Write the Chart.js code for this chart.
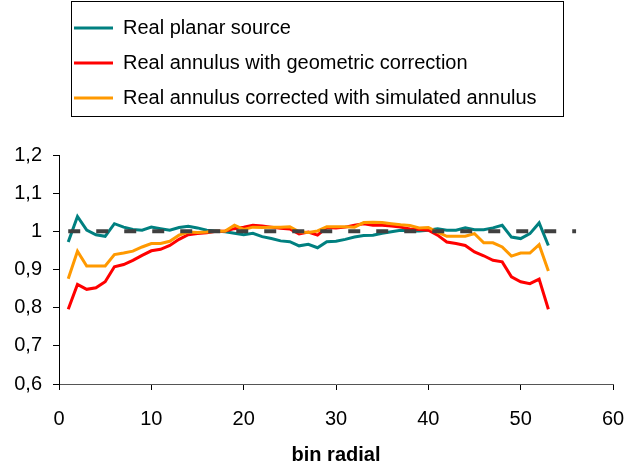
<!DOCTYPE html>
<html>
<head>
<meta charset="utf-8">
<script src="https://cdn.jsdelivr.net/npm/chart.js@4/dist/chart.umd.min.js"></script>
<style>
  html, body { margin: 0; padding: 0; background: #fff; }
  #wrap { width: 626px; height: 463px; }
</style>
</head>
<body>
<div id="wrap"><canvas id="c" width="626" height="463"></canvas></div>
<script>
// ---- data ----
const bins = [1,2,3,4,5,6,7,8,9,10,11,12,13,14,15,16,17,18,19,20,21,22,23,24,25,26,27,28,29,30,31,32,33,34,35,36,37,38,39,40,41,42,43,44,45,46,47,48,49,50,51,52,53];
const realPlanarSource = [0.972,1.039,1.003,0.991,0.987,1.020,1.011,1.005,1.003,1.011,
  1.007,1.003,1.010,1.013,1.009,1.003,1.001,0.999,0.995,0.991,
  0.995,0.986,0.981,0.975,0.973,0.962,0.966,0.957,0.973,0.974,
  0.979,0.985,0.989,0.990,0.995,0.999,1.003,1.001,1.001,1.003,
  1.007,1.003,1.003,1.009,1.004,1.004,1.009,1.016,0.985,0.981,
  0.994,1.022,0.963];
const annulusGeometric = [0.796,0.861,0.848,0.852,0.868,0.907,0.913,0.924,0.937,0.949,
  0.953,0.963,0.979,0.991,0.994,0.996,1.000,1.001,1.007,1.011,
  1.016,1.014,1.011,1.008,1.006,0.993,0.998,0.990,1.010,1.009,
  1.011,1.016,1.020,1.016,1.016,1.014,1.011,1.006,1.005,1.003,
  0.990,0.972,0.968,0.963,0.946,0.936,0.924,0.920,0.881,0.868,
  0.863,0.875,0.796];
const annulusSimulated = [0.876,0.948,0.909,0.909,0.909,0.939,0.943,0.948,0.959,0.968,
  0.968,0.974,0.990,0.998,0.997,0.998,1.000,1.001,1.016,1.005,
  1.011,1.010,1.011,1.011,1.012,0.999,0.997,1.001,1.012,1.012,
  1.012,1.011,1.023,1.024,1.023,1.020,1.017,1.015,1.009,1.010,
  0.998,0.987,0.987,0.987,0.994,0.970,0.970,0.959,0.935,0.943,
  0.943,0.965,0.896];
const referenceX = [1, 56];
const referenceValue = 1;
const seriesLabels = ["Real planar source", "Real annulus with geometric correction", "Real annulus corrected with simulated annulus"];
const xTicks = [0, 10, 20, 30, 40, 50, 60];
const yTicks = [0.6, 0.7, 0.8, 0.9, 1.0, 1.1, 1.2];
const xTitle = "bin radial";

const toPoints = (xs, ys) => xs.map((x, i) => ({ x: x, y: ys[i] }));

const legendGap = {
  id: 'legendGap',
  beforeInit(chart) {
    const fit = chart.legend.fit;
    chart.legend.fit = function () { fit.call(this); this.height += 37; };
  }
};
const legendBox = {
  id: 'legendBox',
  afterDraw(chart) {
    const hb = chart.legend && chart.legend.legendHitBoxes;
    if (!hb || !hb.length) return;
    let l = Infinity, t = Infinity, r = -Infinity, b = -Infinity;
    hb.forEach(h => { l = Math.min(l, h.left); t = Math.min(t, h.top); r = Math.max(r, h.left + h.width); b = Math.max(b, h.top + h.height); });
    const ctx = chart.ctx;
    ctx.save();
    ctx.strokeStyle = '#000';
    ctx.lineWidth = 1;
    const x0 = Math.round(l - 3), y0 = Math.max(0, Math.round(t - 17));
    ctx.strokeRect(x0 + 0.5, y0 + 0.5, Math.round(r + 26) - x0, Math.round(b + 8) - y0);
    ctx.restore();
  }
};

const fontFamily = '"Liberation Sans", Arial, sans-serif';

new Chart(document.getElementById('c'), {
  type: 'line',
  data: {
    datasets: [
      { label: seriesLabels[0], data: toPoints(bins, realPlanarSource), borderColor: '#008080', backgroundColor: '#008080', borderWidth: 3, order: 3 },
      { label: seriesLabels[1], data: toPoints(bins, annulusGeometric), borderColor: '#FF0000', backgroundColor: '#FF0000', borderWidth: 3, order: 2 },
      { label: seriesLabels[2], data: toPoints(bins, annulusSimulated), borderColor: '#FF9900', backgroundColor: '#FF9900', borderWidth: 3, order: 1 },
      { label: 'ref', data: referenceX.map(x => ({ x: x, y: referenceValue })), borderColor: '#404040', borderWidth: 4, borderDash: [12, 16], order: 0 }
    ]
  },
  options: {
    responsive: false,
    animation: false,
    devicePixelRatio: 1,
    elements: { point: { radius: 0 }, line: { tension: 0, borderCapStyle: 'butt' } },
    layout: { padding: { top: 3, right: 13, left: 0, bottom: 0 } },
    plugins: {
      tooltip: { enabled: false },
      legend: {
        display: true,
        position: 'top',
        align: 'start',
        fullSize: false,
        labels: {
          usePointStyle: true,
          pointStyle: 'line',
          pointStyleWidth: 39,
          padding: 15,
          color: '#000',
          font: { family: fontFamily, size: 20 },
          filter: (item) => item.datasetIndex < 3,
          sort: (a, b) => a.datasetIndex - b.datasetIndex
        }
      }
    },
    scales: {
      x: {
        type: 'linear',
        min: 0, max: 60,
        afterBuildTicks: (s) => { s.ticks = xTicks.map(v => ({ value: v })); },
        afterFit: (s) => { s.height = 79; s.paddingLeft = 0; s.paddingRight = 0; },
        grid: { drawOnChartArea: false, drawTicks: true, tickLength: 6, color: '#000' },
        border: { display: true, color: '#555', width: 1 },
        ticks: { color: '#000', font: { family: fontFamily, size: 20 }, padding: 17, maxRotation: 0 },
        title: { display: true, text: xTitle, color: '#000', font: { family: fontFamily, size: 20, weight: 'bold' }, padding: { top: 0, bottom: -4 } }
      },
      y: {
        type: 'linear',
        min: 0.6, max: 1.2,
        afterBuildTicks: (s) => { s.ticks = yTicks.map(v => ({ value: v })); },
        afterFit: (s) => { s.width = 59; },
        grid: { drawOnChartArea: false, drawTicks: true, tickLength: 6, color: '#000' },
        border: { display: true, color: '#000', width: 1 },
        ticks: { color: '#000', font: { family: fontFamily, size: 20 }, padding: 11,
          callback: (v) => String(Math.round(v * 10) / 10).replace('.', ',') }
      }
    }
  },
  plugins: [legendGap, legendBox]
});
</script>
</body>
</html>
